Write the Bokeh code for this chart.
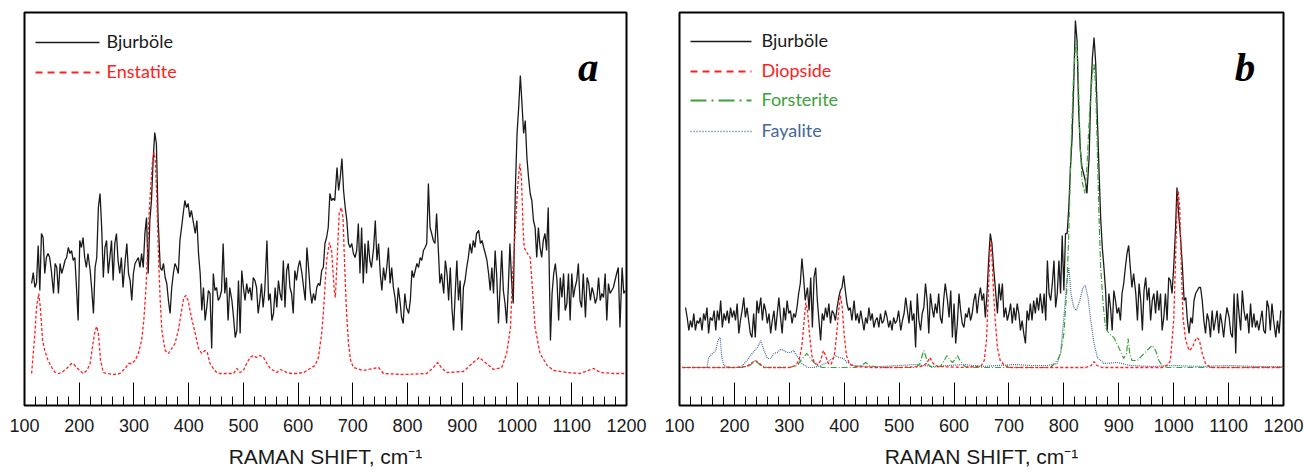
from bokeh.plotting import figure
from bokeh.layouts import row
from bokeh.models import Range1d, SingleIntervalTicker, Label, Arrow
from bokeh.embed import file_html
from bokeh.resources import INLINE

# ---------------- Panel a : Bjurböle vs Enstatite ----------------
bjur_a_x = [
    113, 116, 119, 122, 125, 128, 131, 134, 137, 140,
    143, 146, 149, 153, 156, 159, 162, 165, 168, 171,
    174, 177, 180, 183, 186, 189, 192, 195, 198, 201,
    204, 207, 210, 213, 216, 220, 223, 226, 229, 232,
    235, 238, 241, 244, 247, 250, 253, 256, 259, 262,
    265, 268, 271, 274, 277, 280, 284, 287, 290, 293,
    296, 299, 302, 305, 308, 311, 314, 317, 320, 323,
    326, 329, 332, 335, 338, 341, 344, 348, 351, 354,
    357, 360, 363, 366, 369, 372, 375, 378, 381, 384,
    387, 390, 393, 396, 399, 402, 405, 408, 412, 415,
    418, 421, 424, 427, 430, 433, 436, 439, 442, 445,
    448, 451, 454, 457, 460, 463, 466, 469, 472, 475,
    479, 482, 485, 488, 491, 494, 497, 500, 503, 506,
    509, 512, 515, 518, 521, 524, 527, 530, 533, 536,
    539, 543, 546, 549, 552, 555, 558, 561, 564, 567,
    570, 573, 576, 579, 582, 585, 588, 591, 594, 597,
    600, 603, 607, 610, 613, 616, 619, 622, 625, 628,
    631, 634, 637, 640, 643, 646, 649, 652, 655, 658,
    661, 664, 667, 671, 674, 677, 680, 683, 686, 689,
    692, 695, 698, 701, 704, 707, 710, 713, 716, 719,
    722, 725, 728, 731, 734, 738, 741, 744, 747, 750,
    753, 756, 759, 762, 765, 768, 771, 774, 777, 780,
    783, 786, 789, 792, 795, 798, 802, 805, 808, 811,
    814, 817, 820, 823, 826, 829, 832, 835, 838, 841,
    844, 847, 850, 853, 856, 859, 862, 866, 869, 872,
    875, 878, 881, 884, 887, 890, 893, 896, 899, 902,
    905, 908, 911, 914, 917, 920, 923, 926, 930, 933,
    936, 939, 942, 945, 948, 951, 954, 957, 960, 963,
    966, 969, 972, 975, 978, 981, 984, 987, 990, 993,
    997, 1000, 1003, 1006, 1009, 1012, 1015, 1018, 1021, 1024,
    1027, 1030, 1033, 1036, 1039, 1042, 1045, 1048, 1051, 1054,
    1057, 1061, 1064, 1067, 1070, 1073, 1076, 1079, 1082, 1085,
    1088, 1091, 1094, 1097, 1100, 1103, 1106, 1109, 1112, 1115,
    1118, 1121, 1125, 1128, 1131, 1134, 1137, 1140, 1143, 1146,
    1149, 1152, 1155, 1158, 1161, 1164, 1167, 1170, 1173, 1176,
    1179, 1182, 1185, 1188, 1192, 1195, 1198,
]
bjur_a_y = [
    122, 133, 118, 123, 160, 115, 172, 168, 132, 148,
    152, 148, 135, 112, 142, 138, 112, 142, 132, 138,
    145, 148, 158, 152, 155, 145, 148, 118, 85, 165,
    158, 168, 148, 138, 152, 135, 115, 92, 138, 148,
    198, 212, 178, 128, 158, 165, 132, 148, 165, 125,
    162, 172, 145, 132, 148, 118, 145, 162, 132, 125,
    105, 132, 142, 145, 148, 138, 152, 138, 172, 188,
    132, 185, 205, 245, 273, 262, 188, 138, 135, 142,
    128, 122, 105, 92, 118, 132, 142, 138, 132, 165,
    178, 192, 205, 198, 202, 188, 195, 185, 172, 185,
    152, 132, 95, 118, 85, 98, 115, 112, 57, 132,
    115, 118, 105, 108, 115, 162, 112, 128, 85, 118,
    105, 88, 68, 75, 125, 72, 135, 118, 105, 122,
    112, 118, 105, 128, 125, 118, 92, 105, 122, 98,
    115, 165, 105, 112, 85, 92, 118, 98, 125, 112,
    105, 145, 98, 135, 142, 118, 112, 92, 135, 125,
    138, 145, 132, 118, 105, 158, 138, 115, 102, 112,
    105, 118, 122, 120, 135, 138, 162, 168, 178, 212,
    205, 207, 205, 238, 215, 228, 247, 215, 198, 185,
    162, 158, 162, 152, 148, 155, 182, 132, 178, 122,
    162, 132, 165, 145, 138, 158, 185, 145, 162, 132,
    115, 138, 125, 138, 158, 122, 138, 118, 108, 92,
    118, 105, 88, 82, 112, 98, 92, 105, 135, 128,
    135, 142, 138, 148, 145, 155, 158, 162, 222, 178,
    172, 165, 162, 192, 158, 122, 132, 112, 145, 132,
    105, 138, 98, 75, 112, 145, 105, 125, 75, 118,
    125, 138, 148, 162, 152, 165, 158, 172, 175, 162,
    165, 158, 152, 145, 132, 115, 138, 112, 155, 128,
    82, 118, 155, 115, 102, 82, 118, 162, 125, 102,
    218, 272, 298, 330, 302, 272, 285, 248, 228, 212,
    205, 185, 178, 148, 178, 158, 148, 165, 172, 155,
    198, 65, 112, 132, 142, 125, 85, 128, 108, 132,
    95, 102, 132, 85, 132, 108, 118, 125, 142, 105,
    98, 132, 88, 128, 122, 105, 118, 112, 102, 108,
    128, 105, 112, 108, 132, 85, 122, 112, 115, 118,
    125, 132, 138, 78, 138, 112, 115,
]
enst_x = [
    113, 119, 122, 126, 129, 133, 137, 143, 150, 156,
    162, 168, 177, 186, 189, 195, 201, 207, 214, 220,
    224, 229, 232, 235, 239, 244, 250, 262, 274, 284,
    290, 296, 302, 308, 314, 318, 322, 325, 328, 331,
    334, 337, 339, 342, 345, 348, 351, 357, 363, 369,
    375, 381, 387, 391, 395, 399, 405, 412, 418, 424,
    430, 434, 439, 445, 451, 457, 469, 482, 488, 494,
    500, 506, 512, 518, 524, 530, 537, 543, 549, 555,
    561, 567, 573, 579, 588, 597, 610, 622, 631, 637,
    643, 646, 652, 657, 661, 666, 668, 672, 675, 679,
    682, 684, 688, 692, 696, 701, 719, 747, 756, 793,
    835, 847, 855, 863, 872, 902, 920, 931, 942, 957,
    972, 981, 988, 992, 997, 1001, 1005, 1008, 1011, 1013,
    1018, 1024, 1028, 1033, 1042, 1055, 1067, 1091, 1115, 1140,
    1152, 1176, 1198,
]
enst_y = [
    32, 72, 98, 112, 98, 65, 55, 45, 38, 33,
    32, 33, 37, 42, 42, 38, 35, 32, 35, 42,
    58, 75, 79, 72, 45, 33, 32, 31, 32, 37,
    42, 42, 45, 52, 65, 85, 118, 155, 195, 222,
    245, 253, 245, 205, 145, 105, 75, 55, 52, 57,
    62, 75, 95, 108, 110, 105, 88, 72, 57, 52,
    55, 53, 42, 37, 33, 32, 32, 32, 37, 33,
    35, 42, 48, 50, 48, 50, 48, 42, 37, 35,
    33, 36, 35, 33, 32, 32, 33, 37, 40, 48,
    72, 92, 145, 163, 155, 115, 108, 155, 192, 198,
    188, 155, 98, 62, 45, 38, 35, 38, 32, 31,
    32, 38, 43, 37, 33, 34, 43, 48, 43, 36,
    38, 52, 78, 132, 178, 218, 242, 228, 178, 158,
    153, 148, 118, 78, 52, 40, 35, 33, 32, 37,
    33, 32, 32,
]

# ---------------- Panel b : Bjurböle vs Diopside / Forsterite / Fayalite ----------------
bjur_b_x = [
    111, 114, 117, 120, 123, 126, 129,
    132, 135, 138, 141, 144, 147, 150, 153, 156, 160,
    163, 166, 169, 172, 175, 178, 181, 184, 187, 190,
    193, 196, 199, 202, 205, 208, 211, 214, 217, 220,
    223, 226, 229, 232, 235, 238, 241, 244, 248, 251,
    254, 257, 260, 263, 266, 269, 272, 275, 278, 281,
    284, 287, 290, 293, 296, 299, 302, 305, 308, 311,
    314, 317, 320, 323, 326, 329, 333, 336, 339, 342,
    345, 348, 351, 354, 357, 360, 363, 366, 369, 372,
    375, 378, 381, 384, 387, 390, 393, 396, 399, 402,
    405, 408, 411, 414, 418, 421, 424, 427, 430, 433,
    436, 439, 442, 445, 448, 451, 454, 457, 460, 463,
    466, 469, 472, 475, 478, 481, 484, 487, 490, 493,
    496, 499, 503, 506, 509, 512, 515, 518, 521, 524,
    527, 530, 533, 536, 539, 542, 545, 548, 551, 554,
    557, 560, 563, 566, 569, 572, 575, 578, 581, 584,
    588, 591, 594, 597, 600, 603, 606, 609, 612, 615,
    618, 621, 624, 627, 630, 633, 636, 639, 642, 645,
    648, 651, 654, 657, 660, 663, 666, 669, 672, 676,
    679, 682, 685, 688, 691, 694, 697, 700, 703, 706,
    709, 712, 715, 718, 721, 724, 727, 730, 733, 736,
    739, 742, 745, 748, 751, 754, 757, 761, 764, 767,
    770, 773, 776, 779, 782, 785, 788, 791, 794, 797,
    800, 803, 806, 809, 812, 815, 818, 821, 824, 827,
    830, 833, 836, 839, 842, 846, 849, 852, 855, 858,
    861, 864, 867, 870, 873, 876, 879, 882, 885, 888,
    891, 894, 897, 900, 903, 906, 909, 912, 915, 918,
    921, 924, 927, 931, 934, 937, 940, 943, 946, 949,
    952, 955, 958, 961, 964, 967, 970, 973, 976, 979,
    982, 985, 988, 991, 994, 997, 1000, 1003, 1006, 1009,
    1012, 1016, 1019, 1022, 1025, 1028, 1031, 1034, 1037, 1040,
    1043, 1046, 1049, 1052, 1055, 1058, 1061, 1064, 1067, 1070,
    1073, 1076, 1079, 1082, 1085, 1088, 1091, 1094, 1097, 1101,
    1104, 1107, 1110, 1113, 1116, 1119, 1122, 1125, 1128, 1131,
    1134, 1137, 1140, 1143, 1146, 1149, 1152, 1155, 1158, 1161,
    1164, 1167, 1170, 1173, 1176, 1179, 1182, 1186, 1189, 1192,
    1195,
]
bjur_b_y = [
    98, 88, 75, 85, 78, 92, 75,
    85, 82, 88, 75, 92, 85, 98, 72, 88, 85,
    95, 75, 95, 85, 105, 78, 92, 85, 95, 82,
    98, 88, 95, 85, 102, 72, 85, 95, 108, 88,
    98, 85, 72, 68, 92, 68, 105, 92, 108, 85,
    102, 95, 82, 92, 72, 85, 95, 75, 92, 108,
    88, 72, 98, 85, 105, 92, 95, 82, 92, 88,
    98, 112, 122, 147, 128, 105, 118, 95, 128, 78,
    128, 138, 105, 85, 65, 92, 85, 98, 88, 102,
    82, 95, 92, 85, 98, 108, 115, 118, 130, 115,
    102, 95, 98, 85, 105, 85, 92, 82, 95, 85,
    75, 88, 82, 98, 85, 92, 78, 85, 88, 78,
    92, 82, 85, 95, 88, 78, 85, 75, 88, 82,
    85, 95, 75, 85, 92, 108, 95, 82, 105, 85,
    92, 58, 112, 85, 75, 92, 98, 122, 105, 72,
    112, 98, 88, 102, 92, 112, 88, 82, 105, 122,
    105, 88, 115, 68, 102, 62, 82, 112, 95, 82,
    78, 92, 88, 98, 85, 92, 105, 112, 92, 108,
    118, 105, 112, 88, 112, 145, 172, 162, 138, 112,
    92, 122, 105, 122, 88, 98, 85, 92, 102, 82,
    98, 85, 102, 92, 75, 85, 72, 62, 95, 85,
    102, 85, 105, 92, 108, 95, 112, 92, 112, 85,
    145, 112, 105, 122, 145, 98, 112, 145, 112, 170,
    115, 172, 172, 198, 238, 268, 322, 385, 365, 295,
    255, 238, 232, 225, 212, 248, 312, 348, 368, 342,
    288, 235, 188, 158, 138, 115, 75, 112, 98, 75,
    115, 105, 92, 98, 85, 112, 122, 138, 152, 160,
    138, 118, 132, 112, 85, 122, 105, 75, 115, 128,
    105, 118, 85, 105, 112, 92, 115, 95, 112, 75,
    88, 112, 85, 128, 125, 112, 138, 172, 218, 192,
    172, 138, 105, 108, 85, 72, 88, 82, 105, 112,
    115, 118, 118, 105, 85, 72, 92, 85, 68, 95,
    75, 85, 95, 72, 92, 82, 68, 85, 98, 88,
    72, 68, 112, 52, 112, 92, 75, 115, 95, 85,
    92, 72, 102, 78, 92, 78, 85, 75, 85, 95,
    75, 72, 105, 98, 75, 102, 85, 68, 85, 72,
    95,
]
diop_x = [
    105, 200, 222, 230, 238, 246, 254, 300, 312, 318,
    323, 327, 330, 333, 337, 341, 346, 352, 357, 362,
    366, 371, 376, 382, 386, 390, 393, 396, 400, 404,
    410, 420, 450, 500, 540, 550, 556, 562, 570, 620,
    640, 650, 655, 659, 662, 665, 667, 669, 672, 675,
    679, 684, 692, 705, 840, 850, 855, 860, 870, 980,
    990, 994, 1000, 1003, 1006, 1008, 1011, 1014, 1017, 1022,
    1028, 1034, 1040, 1043, 1047, 1052, 1058, 1067, 1080, 1200,
]
diop_y = [
    38, 38, 39, 42, 45, 42, 38, 38, 40, 46,
    60, 85, 103, 95, 70, 50, 42, 41, 45, 55,
    50, 42, 41, 50, 70, 95, 110, 100, 70, 50,
    41, 39, 38, 38, 39, 42, 48, 42, 39, 38,
    39, 40, 45, 65, 105, 150, 165, 150, 112, 85,
    58, 45, 40, 38, 38, 40, 44, 40, 38, 38,
    41, 45, 85, 138, 198, 215, 198, 138, 88, 65,
    55, 58, 66, 68, 65, 52, 42, 38, 38, 38,
]
fors_x = [
    105, 215, 228, 238, 248, 260, 300, 315, 322, 332,
    340, 350, 360, 420, 432, 439, 446, 460, 530, 538,
    542, 545, 548, 553, 560, 575, 582, 587, 592, 597,
    602, 606, 612, 620, 640, 776, 788, 794, 800, 805,
    809, 813, 817, 821, 823, 826, 829, 833, 838, 842,
    847, 852, 855, 858, 861, 864, 867, 872, 876, 882,
    891, 900, 909, 914, 917, 920, 924, 934, 946, 957,
    961, 967, 973, 979, 988, 1200,
]
fors_y = [
    38, 38, 40, 45, 40, 38, 38, 40, 46, 52,
    46, 40, 38, 38, 40, 43, 40, 38, 38, 42,
    50, 55, 50, 41, 38, 39, 45, 50, 46, 43,
    46, 50, 44, 39, 38, 38, 45, 52, 72, 112,
    172, 255, 322, 358, 365, 338, 272, 225, 212, 238,
    295, 332, 342, 318, 255, 188, 138, 98, 78, 72,
    68, 58, 47, 52, 67, 52, 45, 45, 52, 58,
    60, 55, 45, 40, 38, 38,
]
faya_x = [
    108, 150, 153, 160, 166, 170, 174, 177, 181, 193,
    211, 223, 232, 242, 248, 254, 260, 266, 272, 278,
    284, 290, 296, 302, 308, 311, 317, 323, 333, 345,
    357, 369, 378, 384, 390, 399, 405, 418, 442, 470,
    500, 530, 560, 590, 620, 650, 680, 710, 740, 770,
    788, 794, 800, 805, 809, 813, 818, 823, 829, 835,
    839, 844, 849, 855, 861, 873, 897, 921, 960, 1000,
    1050, 1100, 1150, 1198,
]
faya_y = [
    38, 38, 48, 52, 55, 65, 68, 48, 40, 38,
    38, 45, 52, 58, 65, 55, 47, 47, 52, 53,
    56, 55, 53, 53, 55, 52, 47, 42, 38, 38,
    40, 43, 47, 50, 48, 47, 43, 40, 39, 39,
    40, 41, 39, 40, 41, 39, 40, 41, 40, 40,
    42, 52, 88, 122, 138, 112, 98, 95, 105, 118,
    120, 108, 85, 62, 48, 42, 43, 40, 39, 40,
    39, 40, 39, 39,
]

axis_title = "RAMAN SHIFT, cm\u207b\u00b9"

RED = "#ff2020"
GREEN = "#3aa23a"
BLUE = "#44679c"
BLACK = "#1a1a1a"

FIG_H = 472
TOP = 12
FRAME_H = 393


def make_panel(width, left, right):
    p = figure(width=width, height=FIG_H, x_range=Range1d(100, 1200), y_range=Range1d(0, 393),
               output_backend="svg", toolbar_location=None, y_axis_location=None,
               min_border_left=left, min_border_right=right, min_border_top=TOP,
               min_border_bottom=FIG_H - TOP - FRAME_H,
               background_fill_color="white", border_fill_color="white")
    p.grid.visible = False
    p.outline_line_color = "black"
    p.outline_line_width = 2
    p.outline_line_alpha = 1
    ax = p.xaxis[0]
    ax.ticker = SingleIntervalTicker(interval=100, num_minor_ticks=5)
    ax.axis_line_color = None
    ax.major_tick_in = 23
    ax.major_tick_out = 0
    ax.minor_tick_in = 9
    ax.minor_tick_out = 0
    ax.major_tick_line_color = "black"
    ax.minor_tick_line_color = "black"
    ax.major_label_standoff = 13
    ax.major_label_text_font = "Liberation Sans"
    ax.major_label_text_font_size = "18px"
    ax.major_label_text_color = BLACK
    ax.axis_label = axis_title
    ax.axis_label_standoff = 10
    ax.axis_label_text_font = "Liberation Sans"
    ax.axis_label_text_font_size = "21px"
    ax.axis_label_text_font_style = "normal"
    ax.axis_label_text_color = BLACK
    return p


def legend_entry(p, label, line_color, text_color, dash, lw, y_line, x0, glyph_w, text_x):
    # legend sample line and its text, placed in screen units inside the frame
    p.add_layout(Arrow(x_start=x0, y_start=y_line, x_end=x0 + glyph_w, y_end=y_line,
                       start_units="screen", end_units="screen", start=None, end=None,
                       line_color=line_color, line_width=lw, line_dash=dash))
    p.add_layout(Label(x=text_x, y=y_line + 2, x_units="screen", y_units="screen", text=label,
                       text_align="left", text_baseline="middle", text_font="Lato",
                       text_font_size="18px", text_color=text_color))


def panel_letter(p, letter):
    p.add_layout(Label(x=1130, y=339, text=letter, text_align="center", text_baseline="alphabetic",
                       text_font="Liberation Serif", text_font_style="bold italic",
                       text_font_size="41px", text_color="black"))


# Panel a
pa = make_panel(650, 24, 24)
pa.line(bjur_a_x, bjur_a_y, line_color=BLACK, line_width=1.3)
pa.line(enst_x, enst_y, line_color=RED, line_width=1.3, line_dash="3 2")
legend_entry(pa, "Bjurböle", BLACK, BLACK, "solid", 1.5, 363, 11, 64, 82)
legend_entry(pa, "Enstatite", RED, RED, "7 5", 2, 333, 11, 64, 82)
panel_letter(pa, "a")

# Panel b
pb = make_panel(654, 29, 21)
pb.line(bjur_b_x, bjur_b_y, line_color=BLACK, line_width=1.3)
pb.line(faya_x, faya_y, line_color=BLUE, line_width=1.2, line_dash="1 1")
pb.line(fors_x, fors_y, line_color=GREEN, line_width=1.2, line_dash="6 2 1 2")
pb.line(diop_x, diop_y, line_color=RED, line_width=1.3, line_dash="3 2")
legend_entry(pb, "Bjurböle", BLACK, BLACK, "solid", 1.5, 364, 11, 61, 82)
legend_entry(pb, "Diopside", RED, RED, "7 5", 2, 334, 11, 61, 82)
legend_entry(pb, "Forsterite", GREEN, GREEN, "16 5 2 5", 2, 305, 11, 61, 82)
legend_entry(pb, "Fayalite", BLUE, BLUE, "1 2", 1.5, 274, 11, 61, 82)
panel_letter(pb, "b")

layout = row(pa, pb)
open("out.html", "w").write(file_html(layout, INLINE))
